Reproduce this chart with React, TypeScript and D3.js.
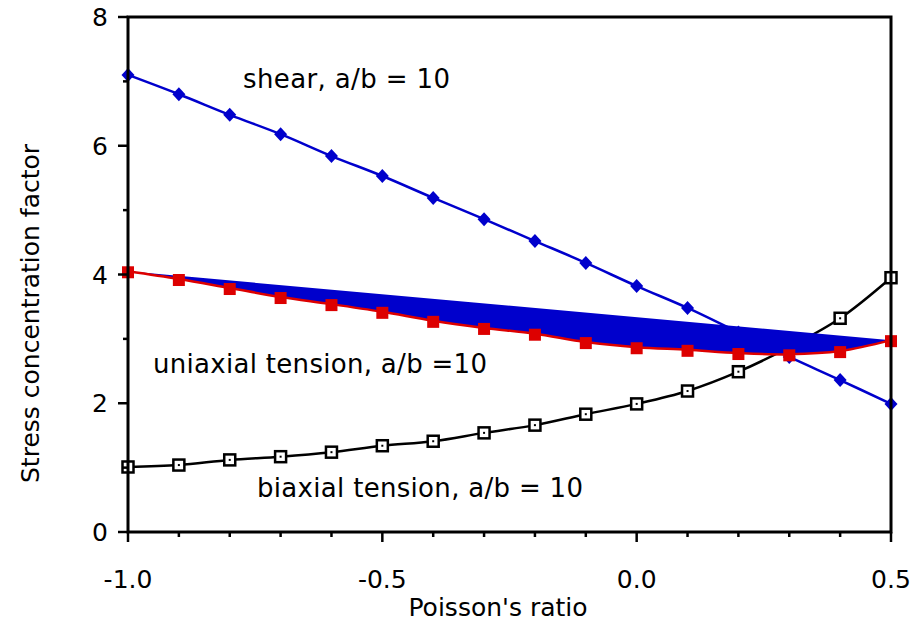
import React from "react";
import * as d3 from "d3";

const poisson = [-1.0, -0.9, -0.8, -0.7, -0.6, -0.5, -0.4, -0.3, -0.2, -0.1, 0.0, 0.1, 0.2, 0.3, 0.4, 0.5];
const shear = [7.1, 6.8, 6.48, 6.18, 5.84, 5.53, 5.19, 4.86, 4.52, 4.18, 3.82, 3.48, 3.1, 2.72, 2.36, 1.99];
const uniaxial = [4.05, 3.93, 3.79, 3.65, 3.54, 3.42, 3.28, 3.17, 3.08, 2.95, 2.87, 2.83, 2.78, 2.76, 2.81, 2.98];
const biaxial = [1.01, 1.04, 1.12, 1.17, 1.24, 1.34, 1.41, 1.54, 1.66, 1.83, 1.99, 2.19, 2.49, 2.87, 3.32, 3.95];

const xMajorTicks = [-1.0, -0.5, 0.0, 0.5];
const xMinorTicks = [-0.9, -0.8, -0.7, -0.6, -0.4, -0.3, -0.2, -0.1, 0.1, 0.2, 0.3, 0.4];
const yMajorTicks = [0, 2, 4, 6, 8];
const yMinorTicks = [1, 3, 5, 7];

const xTitle = "Poisson's ratio";
const yTitle = "Stress concentration factor";
const shearLabel = "shear, a/b = 10";
const uniLabel = "uniaxial tension, a/b =10";
const biLabel = "biaxial tension, a/b = 10";

const FONT = "Verdana, 'DejaVu Sans', sans-serif";
const BLUE = "#0000cc";
const RED = "#dd0000";

export default function App() {
  const left = 128, right = 891, top = 17, bottom = 532;
  const x = d3.scaleLinear().domain([-1, 0.5]).range([left, right]);
  const y = d3.scaleLinear().domain([0, 8]).range([bottom, top]);

  const mk = (vals: number[]) =>
    d3
      .line<number>()
      .x((_, i) => x(poisson[i]))
      .y((v) => y(v))
      .curve(d3.curveCatmullRom.alpha(0.5))(vals) as string;

  const fmt = (t: number) => d3.format(".1f")(t).replace("\u2212", "-");

  return (
    <svg width={914} height={622} style={{ position: "absolute", left: 0, top: 0, background: "#fff" }}>
      {/* biaxial */}
      <path d={mk(biaxial)} fill="none" stroke="#000" strokeWidth={2.5} />
      {biaxial.map((v, i) => (
        <g key={"b" + i}>
          <rect x={x(poisson[i]) - 5.5} y={y(v) - 5.5} width={11} height={11} fill="#fff" stroke="#000" strokeWidth={2.5} />
          <rect x={x(poisson[i]) - 1} y={y(v) - 1} width={2} height={2} fill="#000" />
        </g>
      ))}
      {/* shear */}
      <path d={mk(shear)} fill="none" stroke={BLUE} strokeWidth={2.5} />
      {shear.map((v, i) => {
        const cx = x(poisson[i]), cy = y(v);
        return <path key={"s" + i} d={`M${cx},${cy - 7}L${cx + 6.5},${cy}L${cx},${cy + 7}L${cx - 6.5},${cy}Z`} fill={BLUE} />;
      })}
      {/* uniaxial with fill */}
      <path d={mk(uniaxial)} fill={BLUE} stroke={RED} strokeWidth={2.5} />
      {uniaxial.map((v, i) => (
        <rect key={"u" + i} x={x(poisson[i]) - 6} y={y(v) - 5} width={12} height={12} fill={RED} />
      ))}

      {/* frame */}
      <rect x={left} y={top} width={right - left} height={bottom - top} fill="none" stroke="#000" strokeWidth={3} />
      {yMajorTicks.map((t) => (
        <g key={"ym" + t}>
          <line x1={left - 10} x2={left} y1={y(t)} y2={y(t)} stroke="#000" strokeWidth={2.5} />
          <text x={108} y={y(t) + 9} textAnchor="end" fontFamily={FONT} fontSize={25} fill="#000">
            {t}
          </text>
        </g>
      ))}
      {yMinorTicks.map((t) => (
        <line key={"yn" + t} x1={left - 5} x2={left} y1={y(t)} y2={y(t)} stroke="#000" strokeWidth={2.5} />
      ))}
      {xMajorTicks.map((t) => (
        <g key={"xm" + t}>
          <line x1={x(t)} x2={x(t)} y1={bottom} y2={bottom + 10} stroke="#000" strokeWidth={2.5} />
          <text x={x(t)} y={588} textAnchor="middle" fontFamily={FONT} fontSize={25} fill="#000">
            {fmt(t)}
          </text>
        </g>
      ))}
      {xMinorTicks.map((t) => (
        <line key={"xn" + t} x1={x(t)} x2={x(t)} y1={bottom} y2={bottom + 5} stroke="#000" strokeWidth={2.5} />
      ))}

      <text x={498} y={616} textAnchor="middle" fontFamily={FONT} fontSize={25} fill="#000">
        {xTitle}
      </text>
      <text transform="translate(39,483) rotate(-90)" textAnchor="start" fontFamily={FONT} fontSize={25} fill="#000">
        {yTitle}
      </text>

      <text x={243} y={88} fontFamily={FONT} fontSize={26} fill="#000" textLength={207} lengthAdjust="spacing">
        {shearLabel}
      </text>
      <text x={153} y={373} fontFamily={FONT} fontSize={26} fill="#000" textLength={334} lengthAdjust="spacing">
        {uniLabel}
      </text>
      <text x={257} y={497} fontFamily={FONT} fontSize={26} fill="#000" textLength={326} lengthAdjust="spacing">
        {biLabel}
      </text>
    </svg>
  );
}
